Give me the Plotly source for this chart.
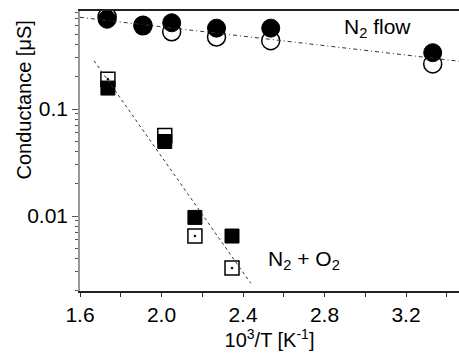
import numpy as np
import plotly.graph_objects as go

# ---- data ----
x_n2 = [1.733, 1.909, 2.05, 2.27, 2.536, 3.331]
g_n2_filled = [0.69, 0.61, 0.64, 0.57, 0.57, 0.336]
g_n2_open = [0.73, 0.60, 0.527, 0.471, 0.435, 0.264]

x_o2 = [1.737, 2.016, 2.164, 2.346]
g_o2_filled = [0.157, 0.0497, 0.0097, 0.0065]
g_o2_open = [0.19, 0.0565, 0.0065, 0.00327]

# linear fits in log10(G) vs 10^3/T
fit_n2_x = [1.6, 3.46]
fit_n2_log0, fit_n2_slope, fit_n2_x0 = -0.143, -0.2206, 1.6
fit_o2_x = [1.669, 2.438]
fit_o2_log0, fit_o2_slope, fit_o2_x0 = -0.549, -2.705, 1.669

x_ticks = [1.6, 2.0, 2.4, 2.8, 3.2]
y_ticks = [0.01, 0.1]
y_ticktext = ["0.01", "0.1"]

FONT = "Liberation Sans, Arial, sans-serif"
FS = 21

def fitline(xs, l0, s, x0):
    return [10 ** (l0 + s * (x - x0)) for x in xs]

fig = go.Figure()

fig.add_trace(go.Scatter(x=x_n2, y=g_n2_open, mode="markers",
    marker=dict(symbol="circle", size=18, color="white", line=dict(color="black", width=1.5))))
fig.add_trace(go.Scatter(x=x_n2, y=g_n2_filled, mode="markers",
    marker=dict(symbol="circle", size=18, color="black", line=dict(color="black", width=1))))
fig.add_trace(go.Scatter(x=x_o2, y=g_o2_open, mode="markers",
    marker=dict(symbol="square-dot", size=14, color="white", line=dict(color="black", width=1.5))))
fig.add_trace(go.Scatter(x=x_o2, y=g_o2_filled, mode="markers",
    marker=dict(symbol="square", size=14, color="black", line=dict(color="black", width=1))))

fig.add_trace(go.Scatter(x=fit_n2_x, y=fitline(fit_n2_x, fit_n2_log0, fit_n2_slope, fit_n2_x0),
    mode="lines", line=dict(color="#333", width=1, dash="4px,3px,1px,3px")))
fig.add_trace(go.Scatter(x=fit_o2_x, y=fitline(fit_o2_x, fit_o2_log0, fit_o2_slope, fit_o2_x0),
    mode="lines", line=dict(color="#333", width=1, dash="3px,3px")))

minor_y = [m * 10.0 ** e for e in (-3, -2, -1) for m in range(2, 10)]

fig.update_layout(
    width=459, height=354,
    margin=dict(l=80, r=0, t=11, b=63),
    paper_bgcolor="white", plot_bgcolor="white",
    showlegend=False,
    font=dict(family=FONT, size=FS, color="black"),
    xaxis=dict(
        range=[1.6, 3.46], tickvals=x_ticks, ticktext=[f"{v:.1f}" for v in x_ticks],
        ticks="outside", ticklen=4, tickcolor="#333", tickwidth=1,
        minor=dict(tickvals=[1.8, 2.2, 2.6, 3.0, 3.4], ticks="outside", ticklen=4, tickcolor="#333"),
        showline=True, linecolor="#222", linewidth=1.5, mirror=True,
        showgrid=False, zeroline=False,
        title=dict(text="10<sup>3</sup>/T [K<sup>-1</sup>]", standoff=4, font=dict(size=20)),
    ),
    yaxis=dict(
        type="log", range=[-2.701, -0.084],
        tickvals=y_ticks, ticktext=y_ticktext,
        ticks="outside", ticklen=6, tickcolor="#555", tickwidth=1,
        minor=dict(tickvals=minor_y, ticks="outside", ticklen=3, tickcolor="#555"),
        showline=True, linecolor="#999", linewidth=1.5,
        showgrid=False, zeroline=False,
    ),
    annotations=[
        dict(x=-0.1464, y=0.682, xref="paper", yref="paper", text="Conductance [μS]",
             textangle=-90, showarrow=False, font=dict(size=20),
             xanchor="center", yanchor="middle"),
        dict(x=3.06, y=np.log10(0.57), xref="x", yref="y", text="N<sub>2</sub> flow",
             showarrow=False, font=dict(size=FS)),
        dict(x=2.70, y=np.log10(0.0039), xref="x", yref="y", text="N<sub>2</sub> + O<sub>2</sub>",
             showarrow=False, font=dict(size=FS)),
    ],
)

fig.write_html("out.html")
